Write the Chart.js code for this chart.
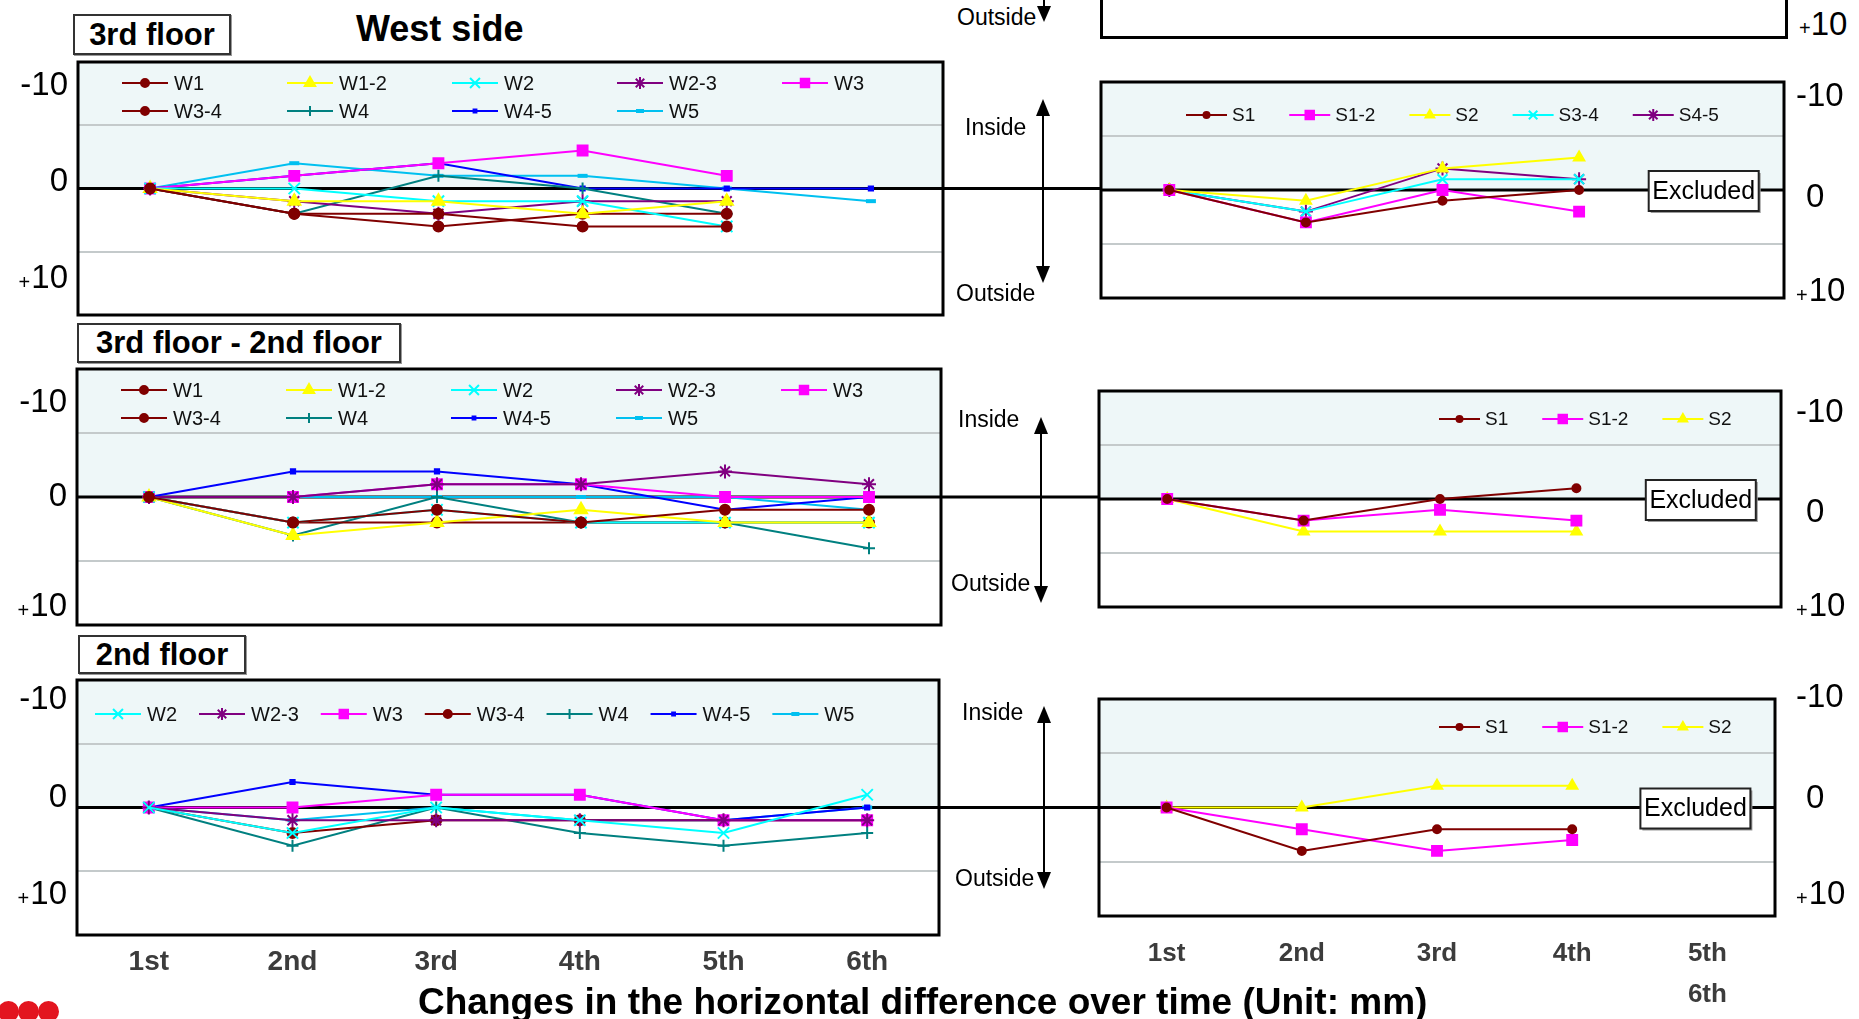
<!DOCTYPE html>
<html>
<head>
<meta charset="utf-8">
<title>Changes in the horizontal difference over time</title>
<script src="https://cdn.jsdelivr.net/npm/chart.js@4.4.1/dist/chart.umd.min.js"></script>
<style>
  body { margin: 0; background: #fff; }
  #page { position: relative; width: 1859px; height: 1019px; overflow: hidden; font-family: "Liberation Sans", Arial, sans-serif; color: #000; }
  #page canvas { position: absolute; }
  .box { position: absolute; box-sizing: border-box; border: 2px solid #333; box-shadow: 1px 1px 0 #999; background: #fff; font-weight: bold; font-size: 31px; display: flex; align-items: center; justify-content: center; }
  .t { position: absolute; white-space: nowrap; line-height: 1; }
  .side { font-size: 23px; }
  .dot { position: absolute; width: 21px; height: 21px; border-radius: 50%; background: #e3151f; }
  #arrows { position: absolute; left: 0; top: 0; }
</style>
</head>
<body>
<div id="page">
  <canvas id="westTop"></canvas>
  <canvas id="westDiff"></canvas>
  <canvas id="westLow"></canvas>
  <canvas id="southTop"></canvas>
  <canvas id="southDiff"></canvas>
  <canvas id="southLow"></canvas>

  <div class="box" style="left:73px;top:14px;width:158px;height:41px">3rd floor</div>
  <div class="t" style="left:356px;top:11px;font-size:36px;font-weight:bold">West side</div>
  <div class="box" style="left:77px;top:323px;width:324px;height:40px">3rd floor - 2nd floor</div>
  <div class="box" style="left:78px;top:635px;width:168px;height:39px">2nd floor</div>

  <!-- bottom edge of the panel that sits above the page -->
  <div style="position:absolute;left:1100px;top:-10px;width:688px;height:49px;border:3px solid #000;box-sizing:border-box"></div>
  <div class="t" style="left:1799px;top:7px;font-size:33px"><span style="font-size:20px">+</span>10</div>

  <div class="t side" style="left:957px;top:6px">Outside</div>
  <div class="t side" style="left:965px;top:116px">Inside</div>
  <div class="t side" style="left:956px;top:282px">Outside</div>
  <div class="t side" style="left:958px;top:408px">Inside</div>
  <div class="t side" style="left:951px;top:572px">Outside</div>
  <div class="t side" style="left:962px;top:701px">Inside</div>
  <div class="t side" style="left:955px;top:867px">Outside</div>

  <svg id="arrows" width="1859" height="1019">
    <g stroke="#000" stroke-width="2" fill="#000">
      <line x1="1044" y1="0" x2="1044" y2="8"/>
      <polygon points="1037,6 1051,6 1044,22" stroke="none"/>

      <line x1="1043" y1="112" x2="1043" y2="270"/>
      <polygon points="1043,99 1036,116 1050,116" stroke="none"/>
      <polygon points="1043,283 1036,266 1050,266" stroke="none"/>

      <line x1="1041" y1="430" x2="1041" y2="590"/>
      <polygon points="1041,417 1034,434 1048,434" stroke="none"/>
      <polygon points="1041,603 1034,586 1048,586" stroke="none"/>

      <line x1="1044" y1="719" x2="1044" y2="876"/>
      <polygon points="1044,706 1037,723 1051,723" stroke="none"/>
      <polygon points="1044,889 1037,872 1051,872" stroke="none"/>
    </g>
  </svg>

  <div class="t" style="left:418px;top:983px;font-size:37px;font-weight:bold">Changes in the horizontal difference over time (Unit: mm)</div>

  <div class="dot" style="left:-2px;top:1001px"></div>
  <div class="dot" style="left:18px;top:1001px"></div>
  <div class="dot" style="left:38px;top:1001px"></div>
</div>

<script>
// ---- categories (survey rounds) ----
var westRounds = ['1st', '2nd', '3rd', '4th', '5th', '6th'];
var southRounds = ['1st', '2nd', '3rd', '4th', ['5th', '6th']];

// ---- y axis end labels ----
var yEnds = [-10, 0, 10];

// ---- West side, 3rd floor (mm, negative = inside) ----
var w3_W1   = [0, 2, 2, 3, 3, null];
var w3_W1_2 = [0, 1, 1, 2, 1, null];
var w3_W2   = [0, 0, 1, 1, 3, null];
var w3_W2_3 = [0, 1, 2, 1, 1, null];
var w3_W3   = [0, -1, -2, -3, -1, null];
var w3_W3_4 = [0, 2, 3, 2, 2, null];
var w3_W4   = [0, 2, -1, 0, 2, null];
var w3_W4_5 = [0, -1, -2, 0, 0, 0];
var w3_W5   = [0, -2, -1, -1, 0, 1];

// ---- West side, 3rd floor - 2nd floor ----
var wd_W1   = [0, 2, 1, 2, 1, 1];
var wd_W1_2 = [0, 3, 2, 1, 2, 2];
var wd_W2   = [0, 2, 1, 2, 2, 2];
var wd_W2_3 = [0, 0, -1, -1, -2, -1];
var wd_W3   = [0, 0, -1, -1, 0, 0];
var wd_W3_4 = [0, 2, 2, 2, 2, 2];
var wd_W4   = [0, 3, 0, 2, 2, 4];
var wd_W4_5 = [0, -2, -2, -1, 1, 0];
var wd_W5   = [0, 0, 0, 0, 0, 1];

// ---- West side, 2nd floor ----
var w2_W2   = [0, 2, 0, 1, 2, -1];
var w2_W2_3 = [0, 1, 1, 1, 1, 1];
var w2_W3   = [0, 0, -1, -1, 1, 1];
var w2_W3_4 = [0, 2, 1, 1, 1, 1];
var w2_W4   = [0, 3, 0, 2, 3, 2];
var w2_W4_5 = [0, -2, -1, -1, 1, 0];
var w2_W5   = [0, 1, 0, 1, 1, 0];

// ---- South side, 3rd floor ----
var s3_S1   = [0, 3, 1, 0, null];
var s3_S1_2 = [0, 3, 0, 2, null];
var s3_S2   = [0, 1, -2, -3, null];
var s3_S3_4 = [0, 2, -1, -1, null];
var s3_S4_5 = [0, 2, -2, -1, null];

// ---- South side, 3rd floor - 2nd floor ----
var sd_S1   = [0, 2, 0, -1, null];
var sd_S1_2 = [0, 2, 1, 2, null];
var sd_S2   = [0, 3, 3, 3, null];

// ---- South side, 2nd floor ----
var s2_S1   = [0, 4, 2, 2, null];
var s2_S1_2 = [0, 2, 4, 3, null];
var s2_S2   = [0, 0, -2, -2, null];

var FONT = '"Liberation Sans", Arial, sans-serif';

// marker / colour per measuring point
var STYLE = {
  'W1':   { color: '#800000', point: 'circle',   r: 5 },
  'W1-2': { color: '#ffff00', point: 'triangle', r: 7 },
  'W2':   { color: '#00ffff', point: 'crossRot', r: 8 },
  'W2-3': { color: '#800080', point: 'star',     r: 7 },
  'W3':   { color: '#ff00ff', point: 'rect',     r: 7 },
  'W3-4': { color: '#800000', point: 'circle',   r: 5 },
  'W4':   { color: '#008080', point: 'cross',    r: 6 },
  'W4-5': { color: '#0000ff', point: 'rect',     r: 3 },
  'W5':   { color: '#00c0f0', point: 'line',     r: 5 },
  'S1':   { color: '#800000', point: 'circle',   r: 4 },
  'S1-2': { color: '#ff00ff', point: 'rect',     r: 7 },
  'S2':   { color: '#ffff00', point: 'triangle', r: 6 },
  'S3-4': { color: '#00ffff', point: 'crossRot', r: 7 },
  'S4-5': { color: '#800080', point: 'star',     r: 7 }
}

function ds(name, data) {
  var s = STYLE[name]
  return {
    label: name,
    data: data,
    borderColor: s.color,
    backgroundColor: s.color,
    pointBackgroundColor: s.color,
    pointBorderColor: s.color,
    pointStyle: s.point,
    pointRadius: s.r,
    pointBorderWidth: s.point == 'line' ? 4 : 2,
    borderWidth: 2,
    tension: 0
  }
}

function marker(ctx, d, x, y) {
  ctx.save()
  ctx.fillStyle = d.pointBackgroundColor
  ctx.strokeStyle = d.borderColor
  ctx.lineWidth = d.pointBorderWidth
  Chart.helpers.drawPoint(ctx, { pointStyle: d.pointStyle, radius: d.pointRadius - 1, rotation: 0, borderWidth: d.pointBorderWidth }, x, y)
  ctx.restore()
}

function drawLegend(chart, L) {
  var ctx = chart.ctx, a = chart.chartArea
  var x = a.left + L.dx, y = a.top + L.dy
  ctx.save()
  ctx.font = L.font + 'px ' + FONT
  ctx.textBaseline = 'middle'
  chart.data.datasets.forEach(function (d, i) {
    var lx = x, ly = y
    if (L.mode == 'grid') {
      lx = a.left + L.dx + (i % L.cols) * L.colW
      ly = a.top + L.dy + Math.floor(i / L.cols) * L.rowH
    }
    ctx.strokeStyle = d.borderColor
    ctx.lineWidth = 2
    ctx.beginPath(); ctx.moveTo(lx, ly); ctx.lineTo(lx + L.lineLen, ly); ctx.stroke()
    marker(ctx, d, lx + L.lineLen / 2, ly)
    ctx.fillStyle = '#111'
    ctx.fillText(d.label, lx + L.lineLen + L.textGap, ly + 1)
    x = lx + L.lineLen + L.textGap + ctx.measureText(d.label).width + L.itemGap
  })
  ctx.restore()
}

// "-10", "0", "+10" beside each panel, nudged inward like the original text boxes
function drawYLabels(chart, o) {
  var ctx = chart.ctx, a = chart.chartArea, ys = chart.scales.y
  var big = '33px ' + FONT, small = '20px ' + FONT
  ctx.save()
  ctx.fillStyle = '#000'
  ctx.textBaseline = 'middle'
  yEnds.forEach(function (v, i) {
    var py = ys.getPixelForValue(v) + o.yShift[i]
    var main = v < 0 ? '-10' : (v == 0 ? '0' : '10')
    ctx.font = big
    var wMain = ctx.measureText(main).width
    ctx.font = small
    var wPlus = v > 0 ? ctx.measureText('+').width + 1 : 0
    var x0
    if (o.side == 'left') x0 = a.left - 10 - wMain - wPlus
    else x0 = chart.width - 63 + (v == 0 ? 10 : 0)
    if (v > 0) { ctx.font = small; ctx.fillText('+', x0, py + 4) }
    ctx.font = big
    ctx.fillText(main, x0 + wPlus, py)
  })
  ctx.restore()
}

function drawExcluded(chart) {
  var ctx = chart.ctx
  var cx = chart.scales.x.getPixelForValue(4) - 12
  var cy = chart.scales.y.getPixelForValue(0) + 1
  var w = 110, h = 40
  ctx.save()
  ctx.fillStyle = '#9a9a9a'
  ctx.fillRect(cx - w / 2 + 2, cy - h / 2 + 2, w, h)
  ctx.fillStyle = '#fff'
  ctx.fillRect(cx - w / 2, cy - h / 2, w, h)
  ctx.strokeStyle = '#222'
  ctx.lineWidth = 2
  ctx.strokeRect(cx - w / 2, cy - h / 2, w, h)
  ctx.fillStyle = '#000'
  ctx.font = '25px ' + FONT
  ctx.textAlign = 'center'
  ctx.textBaseline = 'middle'
  ctx.fillText('Excluded', cx, cy + 1)
  ctx.restore()
}

function panelPlugin(o) {
  return {
    id: 'panel',
    beforeDraw: function (chart) {
      // light "inside" band above the zero line
      var ctx = chart.ctx, a = chart.chartArea
      var z = chart.scales.y.getPixelForValue(0)
      ctx.save()
      ctx.fillStyle = '#eef7f8'
      ctx.fillRect(a.left, a.top, a.right - a.left, z - a.top)
      ctx.restore()
    },
    beforeDatasetsDraw: function (chart) {
      var ctx = chart.ctx, a = chart.chartArea
      var z = chart.scales.y.getPixelForValue(0)
      ctx.save()
      ctx.strokeStyle = '#000'
      ctx.lineWidth = 3
      ctx.beginPath()
      ctx.moveTo(a.left, z)
      ctx.lineTo(o.extend ? chart.width : a.right, z)
      ctx.stroke()
      ctx.restore()
    },
    afterDraw: function (chart) {
      var ctx = chart.ctx, a = chart.chartArea
      ctx.save()
      ctx.strokeStyle = '#000'
      ctx.lineWidth = 3
      ctx.strokeRect(a.left, a.top, a.right - a.left, a.bottom - a.top)
      ctx.restore()
      drawYLabels(chart, o)
      drawLegend(chart, o.legend)
      if (o.excluded) drawExcluded(chart)
    }
  }
}

function makeChart(id, box, labels, datasets, o) {
  var canvas = document.getElementById(id)
  canvas.width = box.width
  canvas.height = box.height
  canvas.style.left = box.left + 'px'
  canvas.style.top = box.top + 'px'
  var xa = o.xAxis
  return new Chart(canvas, {
    type: 'line',
    data: { labels: labels, datasets: datasets },
    options: {
      responsive: false,
      animation: false,
      events: [],
      layout: { autoPadding: false, padding: { left: o.padL, right: o.padR, top: o.padT, bottom: xa ? 0 : o.padB } },
      plugins: { legend: { display: false }, tooltip: { enabled: false } },
      scales: {
        x: {
          type: 'category',
          offset: true,
          display: !!xa,
          grid: { display: false, drawTicks: false },
          border: { display: false },
          ticks: xa ? {
            color: '#3c3c3c',
            padding: xa.padding,
            maxRotation: 0,
            autoSkip: false,
            font: { family: FONT, size: xa.size, weight: 'bold', lineHeight: 1.58 }
          } : {},
          afterFit: function (s) { if (xa) s.height = xa.height }
        },
        y: {
          position: o.side,
          min: -10,
          max: 10,
          reverse: true,
          ticks: { stepSize: 5, display: false },
          grid: {
            drawTicks: false,
            lineWidth: 2,
            color: function (c) { return Math.abs(c.tick.value) == 5 ? '#c4cacb' : 'rgba(0,0,0,0)' }
          },
          border: { display: false },
          afterFit: function (s) { s.width = o.axisW }
        }
      }
    },
    plugins: [panelPlugin(o)]
  })
}

var westGrid = function (dy, rowH) {
  return { mode: 'grid', dx: 44, dy: dy, colW: 165, rowH: rowH, cols: 5, lineLen: 46, textGap: 6, itemGap: 0, font: 20 }
}
var southFlow = function (dx, dy) {
  return { mode: 'flow', dx: dx, dy: dy, lineLen: 41, textGap: 5, itemGap: 34, font: 19 }
}

makeChart('westTop', { left: 0, top: 58, width: 1101, height: 261 }, westRounds, [
  ds('W1', w3_W1), ds('W1-2', w3_W1_2), ds('W2', w3_W2), ds('W2-3', w3_W2_3), ds('W3', w3_W3),
  ds('W3-4', w3_W3_4), ds('W4', w3_W4), ds('W4-5', w3_W4_5), ds('W5', w3_W5)
], { side: 'left', axisW: 78, padL: 0, padR: 158, padT: 4, padB: 4, extend: true,
     yShift: [24, -7, -36], legend: westGrid(21, 28) })

makeChart('westDiff', { left: 0, top: 365, width: 1101, height: 264 }, westRounds, [
  ds('W1', wd_W1), ds('W1-2', wd_W1_2), ds('W2', wd_W2), ds('W2-3', wd_W2_3), ds('W3', wd_W3),
  ds('W3-4', wd_W3_4), ds('W4', wd_W4), ds('W4-5', wd_W4_5), ds('W5', wd_W5)
], { side: 'left', axisW: 77, padL: 0, padR: 160, padT: 4, padB: 4, extend: true,
     yShift: [34, 0, -18], legend: westGrid(21, 28) })

makeChart('westLow', { left: 0, top: 676, width: 1101, height: 319 }, westRounds, [
  ds('W2', w2_W2), ds('W2-3', w2_W2_3), ds('W3', w2_W3), ds('W3-4', w2_W3_4),
  ds('W4', w2_W4), ds('W4-5', w2_W4_5), ds('W5', w2_W5)
], { side: 'left', axisW: 77, padL: 0, padR: 162, padT: 4, padB: 0, extend: true,
     yShift: [20, -10, -40], xAxis: { height: 60, size: 28, padding: 5 },
     legend: { mode: 'flow', dx: 18, dy: 34, lineLen: 46, textGap: 6, itemGap: 22, font: 20 } })

makeChart('southTop', { left: 1095, top: 78, width: 764, height: 224 }, southRounds, [
  ds('S1', s3_S1), ds('S1-2', s3_S1_2), ds('S2', s3_S2), ds('S3-4', s3_S3_4), ds('S4-5', s3_S4_5)
], { side: 'right', axisW: 75, padL: 6, padR: 0, padT: 4, padB: 4, extend: false, excluded: true,
     yShift: [15, 8, -6], legend: southFlow(85, 33) })

makeChart('southDiff', { left: 1093, top: 387, width: 766, height: 236 }, southRounds, [
  ds('S1', sd_S1), ds('S1-2', sd_S1_2), ds('S2', sd_S2)
], { side: 'right', axisW: 78, padL: 6, padR: 0, padT: 4, padB: 16, extend: false, excluded: true,
     yShift: [22, 14, 0], legend: southFlow(340, 28) })

makeChart('southLow', { left: 1093, top: 683, width: 766, height: 333 }, southRounds, [
  ds('S1', s2_S1), ds('S1-2', s2_S1_2), ds('S2', s2_S2)
], { side: 'right', axisW: 84, padL: 6, padR: 0, padT: 16, padB: 0, extend: false, excluded: true,
     yShift: [-1, -9, -21], xAxis: { height: 100, size: 26, padding: 17 }, legend: southFlow(340, 28) })
</script>
</body>
</html>
